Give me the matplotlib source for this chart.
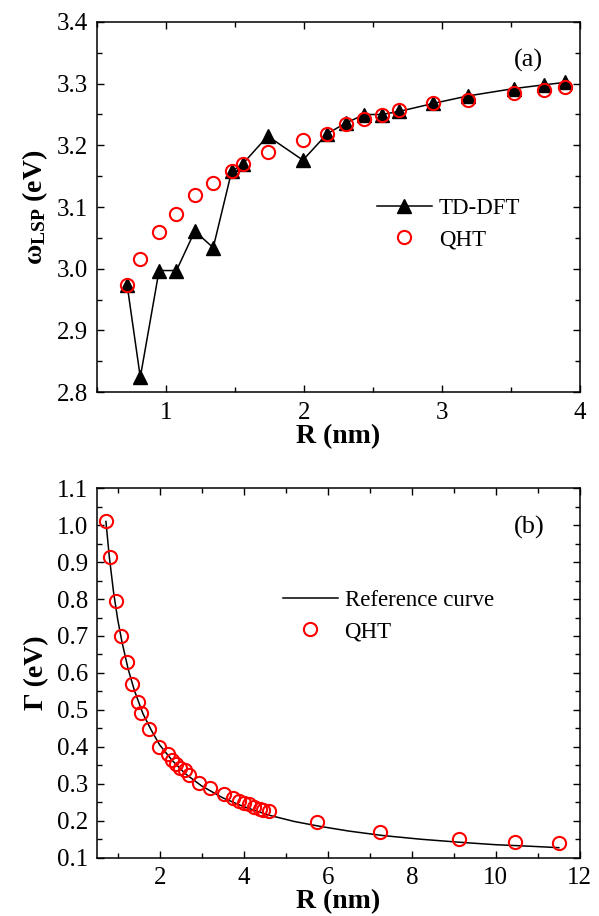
import matplotlib
matplotlib.use("Agg")
import matplotlib.pyplot as plt
from matplotlib.ticker import MultipleLocator, FormatStrFormatter

# panel (a): LSP energy vs radius
r_a = [0.721, 0.816, 0.952, 1.078, 1.211, 1.344, 1.478, 1.558, 1.739, 1.994,
       2.171, 2.304, 2.438, 2.564, 2.692, 2.939, 3.187, 3.521, 3.737, 3.890]
w_tddft = [2.973, 2.824, 2.997, 2.997, 3.061, 3.034, 3.158, 3.170, 3.215, 3.176,
           3.219, 3.236, 3.250, 3.250, 3.255, 3.268, 3.280, 3.292, 3.298, 3.302]
w_qht = [2.973, 3.016, 3.059, 3.089, 3.119, 3.139, 3.159, 3.169, 3.189, 3.209,
         3.219, 3.235, 3.242, 3.250, 3.257, 3.269, 3.274, 3.285, 3.289, 3.294]

# panel (b): linewidth vs radius
r_b = [0.722, 0.825, 0.960, 1.079, 1.222, 1.341, 1.484, 1.548, 1.746, 1.992,
       2.190, 2.294, 2.389, 2.492, 2.595, 2.690, 2.944, 3.190, 3.524, 3.746,
       3.881, 4.016, 4.119, 4.238, 4.381, 4.460, 4.595, 5.754, 7.254, 9.119,
       10.452, 11.508]
g_qht = [1.011, 0.913, 0.794, 0.701, 0.630, 0.570, 0.520, 0.491, 0.449, 0.400,
         0.380, 0.364, 0.353, 0.344, 0.337, 0.324, 0.301, 0.288, 0.271, 0.261,
         0.254, 0.249, 0.244, 0.236, 0.232, 0.229, 0.225, 0.197, 0.170, 0.151,
         0.143, 0.141]
r_ref = [0.72, 0.8, 0.9, 1.0, 1.1, 1.25, 1.4, 1.6, 1.8, 2.0, 2.3, 2.6, 3.0, 3.5,
         4.0, 4.6, 5.2, 5.8, 6.5, 7.3, 8.2, 9.1, 10.0, 10.8, 11.5]
g_ref = [1.010, 0.915, 0.820, 0.745, 0.685, 0.610, 0.552, 0.490, 0.445, 0.405,
         0.363, 0.328, 0.294, 0.262, 0.238, 0.215, 0.198, 0.185, 0.172, 0.160,
         0.150, 0.142, 0.135, 0.131, 0.127]

plt.rcParams['font.family'] = ['Liberation Serif', 'DejaVu Serif']
plt.rcParams['mathtext.fontset'] = 'custom'
plt.rcParams['mathtext.rm'] = 'Liberation Serif'
plt.rcParams['mathtext.it'] = 'Liberation Serif:italic'
plt.rcParams['mathtext.bf'] = 'Liberation Serif:bold'
plt.rcParams['font.size'] = 16

fig = plt.figure(figsize=(5.99, 9.16), dpi=100)
ax1 = fig.add_axes([0.1614, 0.572, 0.8066, 0.404])
ax2 = fig.add_axes([0.1614, 0.0637, 0.8066, 0.4033])


def style(ax):
    for s in ax.spines.values():
        s.set_linewidth(1.1)
    ax.tick_params(which='both', direction='in', top=True, right=True, width=1.0)
    ax.tick_params(which='major', length=5, pad=6, labelsize=18)
    ax.tick_params(which='minor', length=3.5)
    ax.tick_params(axis='x', which='major', pad=7)


ax1.plot(r_a, w_tddft, '-^', color='black', lw=1.1, ms=10, label='TD-DFT', zorder=2)
ax1.plot(r_a, w_qht, 'o', mfc='none', mec='red', mew=1.5, ms=9.5, label='QHT', zorder=3)
ax1.set_xlim(0.5, 4)
ax1.set_ylim(2.8, 3.4)
ax1.xaxis.set_major_locator(MultipleLocator(1))
ax1.xaxis.set_minor_locator(MultipleLocator(0.5))
ax1.yaxis.set_major_locator(MultipleLocator(0.1))
ax1.yaxis.set_minor_locator(MultipleLocator(0.05))
ax1.yaxis.set_major_formatter(FormatStrFormatter('%.1f'))
ax1.set_xlabel('R (nm)', fontsize=20, fontweight='bold', labelpad=0)
ax1.set_ylabel(r'$\mathbf{\omega_{LSP}}$ (eV)', fontsize=20, fontweight='bold', labelpad=5)
ax1.text(0.894, 0.897, '(a)', transform=ax1.transAxes, ha='center', va='center', fontsize=19)
ax1.legend(loc='upper left', bbox_to_anchor=(0.58, 0.525), frameon=False, borderpad=0,
           borderaxespad=0, handlelength=2.4, handletextpad=0.3, labelspacing=0.45,
           fontsize=16.5)
style(ax1)

ax2.plot(r_ref, g_ref, '-', color='black', lw=1.1, label='Reference curve', zorder=2)
ax2.plot(r_b, g_qht, 'o', mfc='none', mec='red', mew=1.5, ms=9.5, label='QHT', zorder=3)
ax2.set_xlim(0.5, 12)
ax2.set_ylim(0.1, 1.1)
ax2.xaxis.set_major_locator(MultipleLocator(2))
ax2.xaxis.set_minor_locator(MultipleLocator(1))
ax2.yaxis.set_major_locator(MultipleLocator(0.1))
ax2.yaxis.set_minor_locator(MultipleLocator(0.05))
ax2.yaxis.set_major_formatter(FormatStrFormatter('%.1f'))
ax2.set_xlabel('R (nm)', fontsize=20, fontweight='bold', labelpad=0)
ax2.set_ylabel('Γ (eV)', fontsize=20, fontweight='bold', labelpad=6)
ax2.text(0.896, 0.894, '(b)', transform=ax2.transAxes, ha='center', va='center', fontsize=19)
ax2.legend(loc='upper left', bbox_to_anchor=(0.385, 0.725), frameon=False, borderpad=0,
           borderaxespad=0, handlelength=2.4, handletextpad=0.3, labelspacing=0.45,
           fontsize=16.5)
style(ax2)

fig.savefig('out.png', dpi=100)
